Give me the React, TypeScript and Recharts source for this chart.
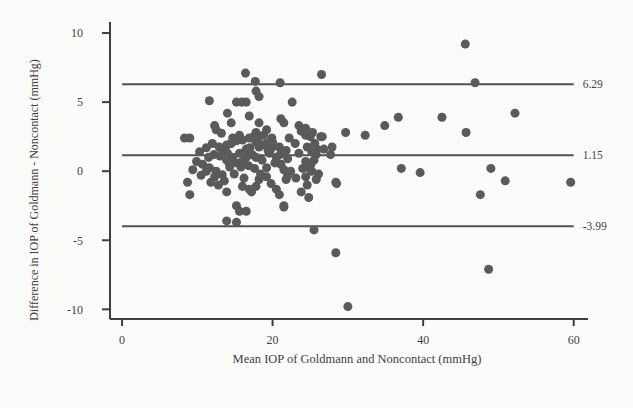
import {
  CartesianGrid,
  ReferenceLine,
  Scatter,
  ScatterChart,
  XAxis,
  YAxis,
  ZAxis,
} from "recharts";

// Bland-Altman: mean IOP (x) vs difference Goldmann - Noncontact (y)
const meanIop = [
  45.6, 16.4, 26.5, 17.7, 21.0, 46.9,
  17.8, 18.2, 11.6, 15.2, 15.9, 16.5, 22.6,
  14.0, 16.9, 14.5, 12.3, 18.2, 21.1, 21.5, 23.5, 24.4,
  8.3, 9.0, 12.5, 13.2, 15.6, 17.8, 19.2, 19.9, 22.2, 26.4,
  10.3, 11.2, 12.0, 12.9, 13.9, 16.0, 16.9, 17.8, 18.6, 18.2, 19.2, 19.9, 20.9, 21.8, 24.6, 25.2, 25.8, 27.9,
  9.9, 9.4, 10.7, 11.6, 12.5, 13.3, 14.3, 15.2, 16.0, 13.9, 14.7, 15.6, 16.5, 17.3, 19.2, 17.8, 18.6, 19.6,
  20.5, 21.1, 21.5, 24.4, 24.8, 25.5, 25.2, 24.4, 25.8, 24.6,
  21.8, 23.1, 28.4,
  8.7, 9.0, 11.2, 12.3, 13.9, 16.0, 16.9, 17.8, 17.2, 18.2, 19.2, 20.5, 20.9, 21.5, 23.8, 24.8,
  15.2, 15.6, 16.5, 13.9, 15.2, 25.5, 28.4, 30.0, 48.7,
  36.7, 42.5, 52.2, 34.9, 32.3, 29.7, 45.7, 26.6,
  23.8, 24.4, 25.0,
  27.7, 37.1, 39.6, 49.0, 50.9, 59.6, 47.6, 28.5,
  13.3, 14.0, 14.5, 14.7, 15.2, 16.5, 17.0, 17.5, 18.0, 18.8, 19.4, 20.0, 13.0, 12.2, 11.5,
  14.3, 15.8, 16.8, 17.6, 18.4, 16.2, 14.9, 13.6, 12.8, 11.8, 10.5, 19.8, 20.3, 21.0, 22.0,
  22.4, 23.5, 23.0, 24.0, 25.1, 25.6, 25.3, 26.8, 21.5, 22.0, 25.9, 26.1,
];

const diffIop = [
  9.2, 7.1, 7.0, 6.5, 6.4, 6.4,
  5.8, 5.4, 5.1, 5.0, 5.0, 5.0, 5.0,
  4.2, 4.0, 3.5, 3.3, 3.5, 3.8, 3.5, 3.3, 3.1,
  2.4, 2.4, 3.0, 2.75, 2.6, 2.8, 3.0, 2.4, 2.4, 2.5,
  1.4, 1.7, 2.0, 1.75, 1.9, 2.25, 2.4, 2.1, 1.9, 1.75, 2.0, 1.7, 1.75, 1.5, 1.75, 1.4, 1.2, 1.75,
  0.7, 0.1, 0.5, 0.25, 0.0, -0.25, 0.3, 0.6, 0.7, 0.8, 1.0, 1.3, 1.0, 1.2, 0.25, 1.0, 0.8, 1.3,
  1.0, 0.5, 0.1, 0.7, 0.25, 0.8, 0.0, -0.4, -0.6, -1.0,
  -0.6, -0.5, -0.8,
  -0.8, -1.7, 0.0, -0.4, -1.5, -1.1, -1.3, -1.1, -1.5, -0.6, -0.4, -1.3, -1.7, -2.5, -1.5, -1.9,
  -2.5, -2.9, -2.9, -3.6, -3.7, -4.25, -5.9, -9.8, -7.1,
  3.9, 3.9, 4.2, 3.3, 2.6, 2.8, 2.8, 2.5,
  2.9, 2.6, 2.5,
  1.2, 0.2, -0.1, 0.2, -0.7, -0.8, -1.7, -0.9,
  1.5, 1.3, 2.0, 2.4, 2.2, 1.6, 1.7, 2.5, 2.3, 2.6, 1.5, 2.1, 1.1, 1.2, 1.0,
  0.5, 0.3, 0.4, 0.2, -0.2, -0.5, -0.2, -0.7, -1.0, -0.8, -0.3, -0.9, 0.6, 1.2, 0.9,
  0.0, 1.3, 2.0, 0.2, 0.5, 2.0, 2.8, 1.6, -2.6, -0.3, 1.6, -0.2,
];

const upperLimit = 6.29;
const meanDiff = 1.15;
const lowerLimit = -3.99;

const xTicks = [0, 20, 40, 60];
const yTicks = [-10, -5, 0, 5, 10];

const points = meanIop.map((x, i) => ({ x, y: diffIop[i] }));

const ink = "#3f3f3f";
const font = "'Liberation Serif', 'Times New Roman', serif";

export default function App() {
  const limitLines = [
    { y: upperLimit, text: "6.29" },
    { y: meanDiff, text: "1.15" },
    { y: lowerLimit, text: "-3.99" },
  ];

  return (
    <div style={{ position: "absolute", left: 0, top: 0, width: 633, height: 408, background: "#fbfbfa" }}>
      <ScatterChart
        width={633}
        height={408}
        margin={{ top: 22, right: 45, bottom: 39, left: 50 }}
        style={{ fontFamily: font }}
      >
        <CartesianGrid stroke="none" />
        <XAxis
          type="number"
          dataKey="x"
          domain={[-1.6, 61.9]}
          ticks={xTicks}
          allowDataOverflow
          height={50}
          tickSize={7}
          tickMargin={9}
          stroke={ink}
          strokeWidth={2}
          tick={{ fill: ink, fontSize: 12, fontFamily: font }}
          label={() => (
            <text x={357} y={363} textAnchor="middle" fill={ink} fontSize={12.5} fontFamily={font}>
              Mean IOP of Goldmann and Noncontact (mmHg)
            </text>
          )}
        />
        <YAxis
          type="number"
          dataKey="y"
          domain={[-10.7, 10.8]}
          ticks={yTicks}
          allowDataOverflow
          width={60}
          tickSize={8}
          tickMargin={19}
          stroke={ink}
          strokeWidth={2}
          tick={{ fill: ink, fontSize: 12, fontFamily: font }}
          label={() => (
            <text
              x={38}
              y={190}
              transform="rotate(-90 38 190)"
              textAnchor="middle"
              fill={ink}
              fontSize={12}
              fontFamily={font}
            >
              Difference in IOP of Goldmann - Noncontact (mmHg)
            </text>
          )}
        />
        <ZAxis range={[40, 40]} />
        {limitLines.map((l) => (
          <ReferenceLine
            key={l.text}
            segment={[
              { x: 0, y: l.y },
              { x: 60, y: l.y },
            ]}
            stroke="#505050"
            strokeWidth={2}
            label={{ value: l.text, position: "right", offset: 9, fill: ink, fontSize: 11.5, fontFamily: font }}
          />
        ))}
        <Scatter data={points} fill="#5a5a5a" isAnimationActive={false} />
      </ScatterChart>
    </div>
  );
}
